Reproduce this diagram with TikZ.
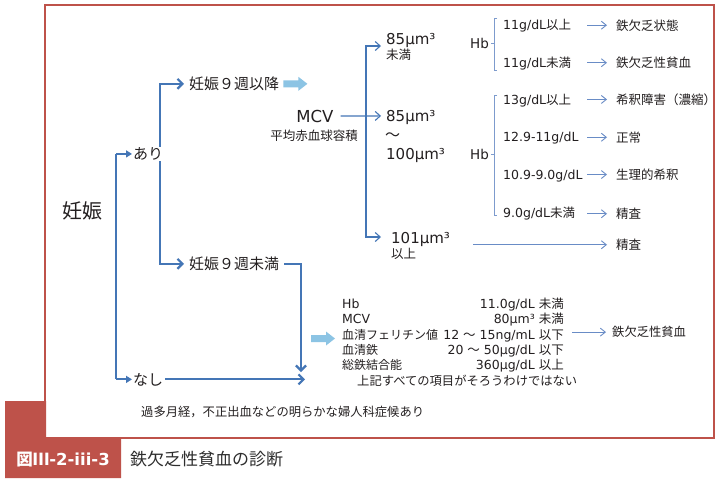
\documentclass[tikz,border=0pt]{standalone}
\usepackage{fontspec}
\setmainfont{DejaVu Sans}
\newfontfamily\jpf{Noto Sans CJK JP}
\usetikzlibrary{arrows.meta,calc}
\definecolor{fr}{RGB}{190,82,74}
\definecolor{cb}{RGB}{68,118,182}
\definecolor{lb}{RGB}{105,140,198}
\definecolor{bk}{RGB}{125,155,205}
\definecolor{fatc}{RGB}{140,196,228}
\definecolor{tx}{RGB}{35,31,32}
\definecolor{tx2}{RGB}{45,45,45}
\newcommand\JF[1]{\jpf\fontsize{#1pt}{#1pt}\selectfont}
\newcommand\LF[1]{\fontsize{#1pt}{#1pt}\selectfont}
\newcommand\fatarrow[1]{\fill[fatc] (#1) ++(0,-3.5) -- ++(15,0) -- ++(0,-3.5) -- ++(9,7) -- ++(-9,7) -- ++(0,-3.5) -- ++(-15,0) -- cycle;}
\tikzset{
  bigb/.tip={Straight Barb[length=5pt,width=10pt]},
  smb/.tip={Straight Barb[length=5pt,width=9pt]},
  rb/.tip={Straight Barb[length=5pt,width=8pt]},
  tri/.tip={Triangle[length=6pt,width=7pt]},
  t/.style={inner sep=0pt,text=tx,anchor=base west},
  v/.style={inner sep=0pt,text=tx,anchor=base east,font=\LF{12.5}},
  conn/.style={draw=cb,line width=2.2pt},
  fork/.style={draw=cb,line width=1.1pt},
  rarr/.style={draw=lb,line width=0.9pt,-rb},
  brk/.style={draw=bk,line width=0.9pt}
}
\begin{document}
\begin{tikzpicture}[x=1pt,y=-1pt]
\useasboundingbox (0,0) rectangle (720,483);
\fill[white] (0,0) rectangle (720,483);
% frame and caption
\draw[fr,line width=2.2pt] (45,5) rectangle (714,438);
\fill[fr] (5,401) -- (46.1,401) -- (46.1,437) -- (121,437) -- (121,478) -- (5,478) -- cycle;
\node[inner sep=0pt,text=white,font=\LF{16.5}\bfseries,anchor=base] (figno) at (63,465) {{\jpf 図Ⅲ}-2-iii-3};
\node[t,font=\JF{17},text=tx2] (cap) at (130,465) {鉄欠乏性貧血の診断};
% left tree
\coordinate (tT) at (116,155);
\coordinate (aT) at (160,84);
\node[t,font=\JF{20}] (nin) at (62,218.7) {妊娠};
\node[t,font=\JF{15}] (nashi) at (133,385) {なし};
\node[t,font=\JF{15}] (w9a) at (189,89.5) {妊娠９週以降};
\node[t,font=\JF{15}] (w9b) at (189,269.5) {妊娠９週未満};
\draw[conn,-bigb,shorten >=5pt] (aT |- w9b.west) -- (aT |- w9a.west) -- (w9a.west);
\draw[conn,-bigb,shorten >=5pt] (aT |- w9a.west) -- (aT |- w9b.west) -- (w9b.west);
\node[t,font=\JF{15},fill=white,inner sep=1pt] (ari) at (132,159.5) {あり};
\draw[conn] (tT |- ari.west) -- (tT |- nashi.west);
\draw[conn,-tri] (tT |- ari.west) -- (ari.west);
\draw[conn,-tri,shorten >=1pt] (tT |- nashi.west) -- (nashi.west);
\coordinate (jv) at (301,372);
\coordinate (jh) at (305,0);
\draw[conn,-bigb] ([xshift=5pt]w9b.east) -| (jv);
\draw[conn,-bigb] ([xshift=2pt]nashi.east) -- (jh |- nashi.west);
\coordinate (fa1) at ([xshift=4pt]w9a.east);
\fatarrow{fa1}
% MCV
\node[inner sep=0pt,text=tx,anchor=base,font=\LF{16.5}] (mcv) at (315,122) {MCV};
\node[inner sep=0pt,text=tx,anchor=base,font=\JF{12.5}] (mcvj) at (314,140.8) {平均赤血球容積};
\node[t,font=\LF{15},text depth=0pt] (m1) at (386,44) {85µm³};
\node[t,font=\JF{12.5}] (m1b) at (386,59.2) {未満};
\node[t,font=\LF{15},text depth=0pt] (m2) at (386,121.5) {85µm³};
\node[t,font=\JF{15}] (m2b) at (385,140) {～};
\node[t,font=\LF{15},text depth=0pt] (m2c) at (386,159.3) {100µm³};
\node[t,font=\LF{15},text depth=0pt] (m3) at (391,243.3) {101µm³};
\node[t,font=\JF{12.5}] (m3b) at (391,258.2) {以上};
\coordinate (fx) at (366,0);
\coordinate (f1) at (381,46);
\coordinate (f3) at (381,237);
\draw[fork,-smb,shorten >=5pt] ([xshift=7pt]mcv.east) -- (m2.west);
\draw[fork,-smb] (fx |- f3) -- (fx |- f1) -- (f1);
\draw[fork,-smb] (fx |- f1) -- (fx |- f3) -- (f3);
% Hb brackets
\node[t,font=\LF{13.5},text depth=0pt] (hb1) at (470,48.3) {Hb};
\node[t,font=\LF{13.5},text depth=0pt] (hb2) at (470,159.3) {Hb};
\draw[brk] (497,18) -| (494,70) -- (497,70);
\draw[brk] (494,43) -- (491,43);
\draw[brk] (497,95) -| (494,215) -- (497,215);
\draw[brk] (494,154) -- (491,154);
% Hb items
\node[t,font=\LF{12.5}] (c1) at (503,29) {11g/dL{\jpf 以上}};
\node[t,font=\LF{12.5}] (c2) at (503,67.5) {11g/dL{\jpf 未満}};
\node[t,font=\LF{12.5}] (c3) at (503,104) {13g/dL{\jpf 以上}};
\node[t,font=\LF{12.5}] (c4) at (503,141.7) {12.9-11g/dL};
\node[t,font=\LF{12.5}] (c5) at (503,179.3) {10.9-9.0g/dL};
\node[t,font=\LF{12.5}] (c6) at (503,217) {9.0g/dL{\jpf 未満}};
\node[t,font=\JF{12.5}] (r1) at (616,30) {鉄欠乏状態};
\node[t,font=\JF{12.5}] (r2) at (616,67.5) {鉄欠乏性貧血};
\node[t,font=\JF{12.5}] (r3) at (616,104.2) {希釈障害（濃縮）};
\node[t,font=\JF{12.5}] (r4) at (616,142) {正常};
\node[t,font=\JF{12.5}] (r5) at (616,179.3) {生理的希釈};
\node[t,font=\JF{12.5}] (r6) at (616,218.5) {精査};
\node[t,font=\JF{12.5}] (r7) at (616,249.5) {精査};
\foreach \r in {r1,r2,r3,r4,r5,r6}{
  \draw[rarr,shorten >=9pt] ([xshift=-29pt]\r.west) -- (\r.west);
}
\draw[rarr,shorten >=9pt] ([xshift=-143pt]r7.west) -- (r7.west);
% bottom block
\coordinate (fa2) at (311,338.5);
\fatarrow{fa2}
\node[t,font=\LF{12.5},text depth=0pt] (b1) at (342,308.5) {Hb};
\node[t,font=\LF{12.5}] (b2) at (342,323.8) {MCV};
\node[t,font=\JF{12}] (b3) at (342,339) {血清フェリチン値};
\node[t,font=\JF{12}] (b4) at (342,354.2) {血清鉄};
\node[t,font=\JF{12}] (b5) at (342,369.4) {総鉄結合能};
\node[v] (v1) at (564,308.5) {11.0g/dL {\jpf 未満}};
\node[v] (v2) at (564,323.8) {80µm³ {\jpf 未満}};
\node[v] (v3) at (564,339) {12 {\jpf ～} 15ng/mL {\jpf 以下}};
\node[v] (v4) at (564,354.2) {20 {\jpf ～} 50µg/dL {\jpf 以下}};
\node[v] (v5) at (564,369.4) {360µg/dL {\jpf 以上}};
\node[t,font=\JF{12.3}] (b6) at (357,385) {上記すべての項目がそろうわけではない};
\node[t,font=\JF{12.3}] (r8) at (612,336.8) {鉄欠乏性貧血};
\draw[rarr,shorten >=6pt] ([xshift=-40pt]r8.west) -- (r8.west);
\node[t,font=\JF{12.3}] (note) at (141,416.5) {過多月経，不正出血などの明らかな婦人科症候あり};
\end{tikzpicture}
\end{document}
